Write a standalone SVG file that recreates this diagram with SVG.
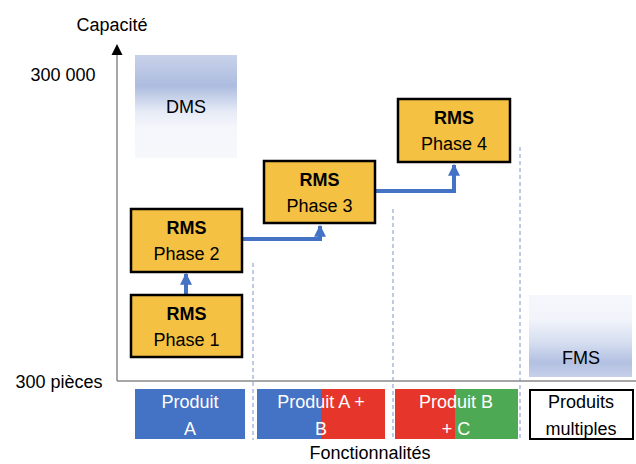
<svg xmlns="http://www.w3.org/2000/svg" width="636" height="464" viewBox="0 0 636 464">
<defs>
<linearGradient id="gDMS" x1="0" y1="0" x2="0" y2="1">
<stop offset="0" stop-color="#c8d2ea"/>
<stop offset="0.3" stop-color="#adbcdf"/>
<stop offset="0.55" stop-color="#e6ebf6"/>
<stop offset="0.7" stop-color="#f4f6fb"/>
<stop offset="1" stop-color="#f6f8fc"/>
</linearGradient>
<linearGradient id="gFMS" x1="0" y1="0" x2="0" y2="1">
<stop offset="0" stop-color="#f5f7fc"/>
<stop offset="0.3" stop-color="#f1f4fa"/>
<stop offset="0.6" stop-color="#d3dcef"/>
<stop offset="0.82" stop-color="#b2c0e1"/>
<stop offset="1" stop-color="#c6d0ea"/>
</linearGradient>
<marker id="ah" viewBox="0 0 10 10" refX="9" refY="5" markerWidth="3" markerHeight="3" orient="auto" markerUnits="strokeWidth">
<path d="M0,0 L10,5 L0,10 z" fill="#4472C4"/>
</marker>
</defs>
<style>
text{font-family:"Liberation Sans",Arial,sans-serif;font-size:18px;fill:#000;text-anchor:middle}
.b{font-weight:bold}
.w{fill:#fff}
.rms{fill:#F4C142;stroke:#000;stroke-width:2.5}
.conn{fill:none;stroke:#4472C4;stroke-width:4}
.dash{stroke:#7f95cc;stroke-width:1;stroke-dasharray:4,3;fill:none}
.ax{stroke:#8a8a8a;stroke-width:1.5;fill:none}
</style>
<rect width="636" height="464" fill="#fff"/>

<g id="axes">
<line class="ax" x1="117" y1="52" x2="117" y2="381"/>
<line class="ax" x1="117" y1="381" x2="636" y2="381"/>
<polygon points="117,44 111.5,55 122.5,55" fill="#000"/>
<text x="112" y="31">Capacité</text>
<text x="63" y="81">300 000</text>
<text x="59" y="388">300 pièces</text>
<text x="370" y="459">Fonctionnalités</text>
</g>

<g id="dividers">
<line class="dash" x1="253" y1="263" x2="253" y2="440"/>
<line class="dash" x1="393" y1="209" x2="393" y2="440"/>
<line class="dash" x1="520" y1="147" x2="520" y2="440"/>
</g>

<g id="DMS">
<rect x="135" y="55" width="102" height="103" fill="url(#gDMS)"/>
<text x="186" y="113">DMS</text>
</g>
<g id="FMS">
<rect x="529" y="295" width="103" height="82" fill="url(#gFMS)"/>
<text x="581" y="364">FMS</text>
</g>

<g id="connectors">
<path class="conn" d="M186,295 V274" marker-end="url(#ah)"/>
<path class="conn" d="M242,239 H320 V226" marker-end="url(#ah)"/>
<path class="conn" d="M376,191 H454 V165" marker-end="url(#ah)"/>
</g>

<g id="rms1">
<rect class="rms" x="131" y="295" width="111" height="62"/>
<text class="b" x="186.5" y="320">RMS</text>
<text x="186.5" y="346">Phase 1</text>
</g>
<g id="rms2">
<rect class="rms" x="131" y="209" width="111" height="63"/>
<text class="b" x="186.5" y="234">RMS</text>
<text x="186.5" y="260">Phase 2</text>
</g>
<g id="rms3">
<rect class="rms" x="264" y="161" width="111" height="62"/>
<text class="b" x="319.5" y="186">RMS</text>
<text x="319.5" y="212">Phase 3</text>
</g>
<g id="rms4">
<rect class="rms" x="398" y="99" width="112" height="63"/>
<text class="b" x="454" y="124">RMS</text>
<text x="454" y="150">Phase 4</text>
</g>

<g id="prodA">
<rect x="135" y="389" width="110" height="50" fill="#4472C4"/>
<text class="w" x="190" y="408">Produit</text>
<text class="w" x="190" y="435">A</text>
</g>
<g id="prodAB">
<rect x="257" y="389" width="64" height="50" fill="#4472C4"/>
<rect x="321" y="389" width="64" height="50" fill="#E6352B"/>
<text class="w" x="321" y="408">Produit A +</text>
<text class="w" x="321" y="435">B</text>
</g>
<g id="prodBC">
<rect x="395" y="389" width="60" height="50" fill="#E6352B"/>
<rect x="455" y="389" width="63" height="50" fill="#4EA955"/>
<text class="w" x="456" y="408">Produit B</text>
<text class="w" x="456" y="435">+ C</text>
</g>
<g id="prodMulti">
<rect x="530" y="390" width="103" height="49" fill="#fff" stroke="#000" stroke-width="2"/>
<text x="581" y="408">Produits</text>
<text x="581" y="435">multiples</text>
</g>
</svg>
